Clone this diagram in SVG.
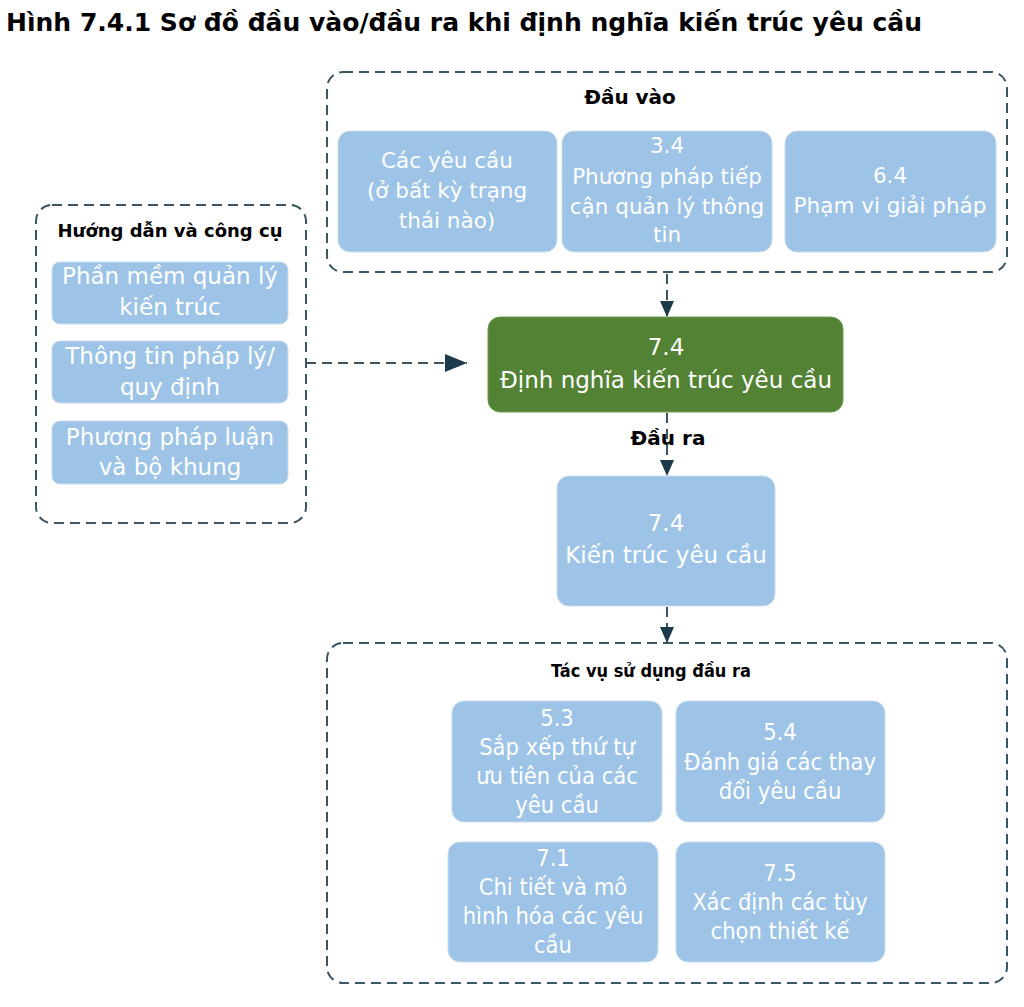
<svg xmlns="http://www.w3.org/2000/svg" width="1024" height="1007" viewBox="0 0 1024 1007">
<style>
.title{font-family:"DejaVu Sans",Verdana,sans-serif;font-weight:bold;font-size:25px;fill:#000}
.grp{fill:none;stroke:#3b5663;stroke-width:2;stroke-dasharray:10,6}
.gl{font-family:"DejaVu Sans",Verdana,sans-serif;font-weight:bold;font-size:18px;fill:#000;text-anchor:middle}
.box{fill:#9dc3e6;stroke:#c9dcec;stroke-width:1}
.green{fill:#548235;stroke:#6f9a52;stroke-width:1}
.t{font-family:"DejaVu Sans",Verdana,sans-serif;font-size:21.5px;fill:#fff;text-anchor:middle}
.tc{font-family:"DejaVu Sans Condensed","DejaVu Sans",sans-serif;font-size:23.5px;fill:#fff;text-anchor:middle}
.conn{fill:none;stroke:#3b5663;stroke-width:2;stroke-dasharray:10,6}
</style>
<defs>
<marker id="ahb" viewBox="0 0 10 10" refX="10" refY="5" markerWidth="22" markerHeight="18" markerUnits="userSpaceOnUse" orient="auto" preserveAspectRatio="none">
<path d="M0,0 L10,5 L0,10 z" fill="#1c3a4a"/>
</marker>
<marker id="ahs" viewBox="0 0 10 10" refX="10" refY="5" markerWidth="16" markerHeight="14" markerUnits="userSpaceOnUse" orient="auto" preserveAspectRatio="none">
<path d="M0,0 L10,5 L0,10 z" fill="#1c3a4a"/>
</marker>
</defs>

<text class="title" x="6" y="31" textLength="916" lengthAdjust="spacingAndGlyphs">Hình 7.4.1 Sơ đồ đầu vào/đầu ra khi định nghĩa kiến trúc yêu cầu</text>

<g id="connectors">
<path class="conn" d="M306,363 L467,363" marker-end="url(#ahb)"/>
<path class="conn" d="M667,274 L667,317" marker-end="url(#ahs)"/>
<path class="conn" d="M667,413 L667,476" marker-end="url(#ahs)"/>
<path class="conn" d="M667,607 L667,643" marker-end="url(#ahs)"/>
</g>

<g id="inputs">
<rect class="grp" x="327" y="72" width="680" height="200" rx="16"/>
<text class="gl" x="630" y="104" style="font-size:20px">Đầu vào</text>
</g>
<g id="in-1">
<rect class="box" x="338" y="131" width="219" height="121" rx="12"/>
<text class="t" x="447" y="168">Các yêu cầu</text>
<text class="t" x="447" y="198">(ở bất kỳ trạng</text>
<text class="t" x="447" y="228">thái nào)</text>
</g>
<g id="in-2">
<rect class="box" x="562" y="131" width="210" height="121" rx="12"/>
<text class="t" x="667" y="153">3.4</text>
<text class="t" x="667" y="184">Phương pháp tiếp</text>
<text class="t" x="667" y="214">cận quản lý thông</text>
<text class="t" x="667" y="242">tin</text>
</g>
<g id="in-3">
<rect class="box" x="785" y="131" width="211" height="121" rx="12"/>
<text class="t" x="890" y="183">6.4</text>
<text class="t" x="890" y="213">Phạm vi giải pháp</text>
</g>

<g id="guides">
<rect class="grp" x="36" y="205" width="270" height="318" rx="16"/>
<text class="gl" x="170" y="237">Hướng dẫn và công cụ</text>
</g>
<g id="g-1">
<rect class="box" x="52" y="262" width="236" height="62" rx="8"/>
<text class="t" x="170" y="284" style="font-size:23px">Phần mềm quản lý</text>
<text class="t" x="170" y="315" style="font-size:23px">kiến trúc</text>
</g>
<g id="g-2">
<rect class="box" x="52" y="341" width="236" height="62" rx="8"/>
<text class="t" x="170" y="364" style="font-size:23px">Thông tin pháp lý/</text>
<text class="t" x="170" y="395" style="font-size:23px">quy định</text>
</g>
<g id="g-3">
<rect class="box" x="52" y="421" width="236" height="63" rx="8"/>
<text class="t" x="170" y="445" style="font-size:23px">Phương pháp luận</text>
<text class="t" x="170" y="475" style="font-size:23px">và bộ khung</text>
</g>

<g id="task">
<rect class="green" x="488" y="317" width="355" height="95" rx="12"/>
<text class="t" x="666" y="355" style="font-size:23px">7.4</text>
<text class="t" x="666" y="388" style="font-size:23px">Định nghĩa kiến trúc yêu cầu</text>
</g>

<text class="gl" x="668" y="445" style="font-size:20px">Đầu ra</text>

<g id="output">
<rect class="box" x="557" y="476" width="218" height="130" rx="12"/>
<text class="t" x="666" y="531" style="font-size:23px">7.4</text>
<text class="t" x="666" y="563" style="font-size:23px">Kiến trúc yêu cầu</text>
</g>

<g id="consumers">
<rect class="grp" x="327" y="643" width="680" height="340" rx="16"/>
<text class="gl" x="651" y="677" style="font-family:'DejaVu Sans Condensed','DejaVu Sans',sans-serif;font-size:18px">Tác vụ sử dụng đầu ra</text>
</g>
<g id="c-53">
<rect class="box" x="452" y="701" width="210" height="121" rx="12"/>
<text class="tc" x="557" y="726">5.3</text>
<text class="tc" x="557" y="755">Sắp xếp thứ tự</text>
<text class="tc" x="557" y="784">ưu tiên của các</text>
<text class="tc" x="557" y="813">yêu cầu</text>
</g>
<g id="c-54">
<rect class="box" x="676" y="701" width="209" height="121" rx="12"/>
<text class="tc" x="780" y="740">5.4</text>
<text class="tc" x="780" y="770">Đánh giá các thay</text>
<text class="tc" x="780" y="799">đổi yêu cầu</text>
</g>
<g id="c-71">
<rect class="box" x="448" y="842" width="210" height="120" rx="12"/>
<text class="tc" x="553" y="866">7.1</text>
<text class="tc" x="553" y="895">Chi tiết và mô</text>
<text class="tc" x="553" y="924">hình hóa các yêu</text>
<text class="tc" x="553" y="953">cầu</text>
</g>
<g id="c-75">
<rect class="box" x="676" y="842" width="209" height="120" rx="12"/>
<text class="tc" x="780" y="881">7.5</text>
<text class="tc" x="780" y="910">Xác định các tùy</text>
<text class="tc" x="780" y="939">chọn thiết kế</text>
</g>
</svg>
